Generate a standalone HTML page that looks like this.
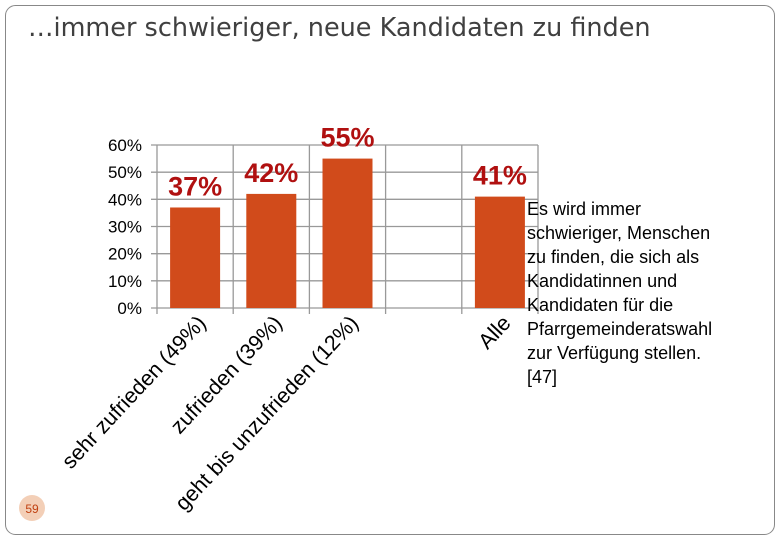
<!DOCTYPE html>
<html><head><meta charset="utf-8"><style>
body{margin:0;width:780px;height:540px;background:#fff;overflow:hidden;font-family:"Liberation Sans",Arial,sans-serif}
</style></head><body>
<svg width="780" height="540">
<rect x="5.5" y="5.5" width="769" height="529" rx="10" fill="none" stroke="#888" stroke-width="1"/>
<text x="28" y="36" font-family="DejaVu Sans, sans-serif" font-size="25.5" fill="#404040">…immer schwieriger, neue Kandidaten zu finden</text>
<g id="chart"></g>
<text font-family="Liberation Sans, sans-serif" font-size="18" fill="#000">
<tspan x="527" y="215">Es wird immer</tspan><tspan x="527" y="239">schwieriger, Menschen</tspan><tspan x="527" y="263">zu finden, die sich als</tspan><tspan x="527" y="287">Kandidatinnen und</tspan><tspan x="527" y="311">Kandidaten für die</tspan><tspan x="527" y="335">Pfarrgemeinderatswahl</tspan><tspan x="527" y="359">zur Verfügung stellen.</tspan><tspan x="527" y="383">[47]</tspan></text>
<circle cx="32" cy="508" r="13" fill="#e8a070" opacity="0.5"/>
<text x="32" y="513" text-anchor="middle" font-size="12" fill="#c04010" font-family="Liberation Sans, sans-serif">59</text>
</svg>
<script>
const categories=["sehr zufrieden (49%)","zufrieden (39%)","geht bis unzufrieden (12%)","","Alle"];
const values=[37,42,55,null,41];
const ticks=[0,10,20,30,40,50,60];
const NS="http://www.w3.org/2000/svg";
const g=document.getElementById('chart');
const x0=157,slot=76.2,y0=308,yTop=145,yMax=60;
const y=v=>y0-(v/yMax)*(y0-yTop);
function mk(t,a){const e=document.createElementNS(NS,t);for(const k in a)e.setAttribute(k,a[k]);g.appendChild(e);return e;}
ticks.forEach(t=>{
 const l=mk('line',{x1:x0-6,x2:x0+slot*categories.length,y1:y(t),y2:y(t),stroke:'#999','stroke-width':1.3});
 
 
 const tx=mk('text',{x:x0-15,y:y(t)+6,'text-anchor':'end','font-size':17,fill:'#000','font-family':'Liberation Sans, sans-serif'});
 tx.textContent=t+'%';
 
 
});
for(let i=0;i<=categories.length;i++){
 const l=mk('line',{x1:x0+i*slot,x2:x0+i*slot,y1:yTop,y2:y0+6,stroke:'#999','stroke-width':1.3});
 
 
}
categories.forEach((c,i)=>{
 const cx=x0+i*slot+slot/2;
 if(values[i]!=null){
  const r=mk('rect',{x:cx-25,y:y(values[i]),width:50,height:y0-y(values[i]),fill:'#d14b1b'});
  
  
  const vt=mk('text',{x:cx,y:y(values[i])-12,'text-anchor':'middle','font-size':27,'font-weight':'bold',fill:'#b01010','font-family':'Liberation Sans, sans-serif'});
  vt.textContent=values[i]+'%';
  
  
 }
 if(c){
  const lx=cx+12,ly=y0+16;
  const ct=mk('text',{x:lx,y:ly,'text-anchor':'end','font-size':21.5,fill:'#000','font-family':'Liberation Sans, sans-serif',transform:`rotate(-47 ${lx} ${ly})`});
  ct.textContent=c;
  
  
 }
});
</script>
</body></html>
